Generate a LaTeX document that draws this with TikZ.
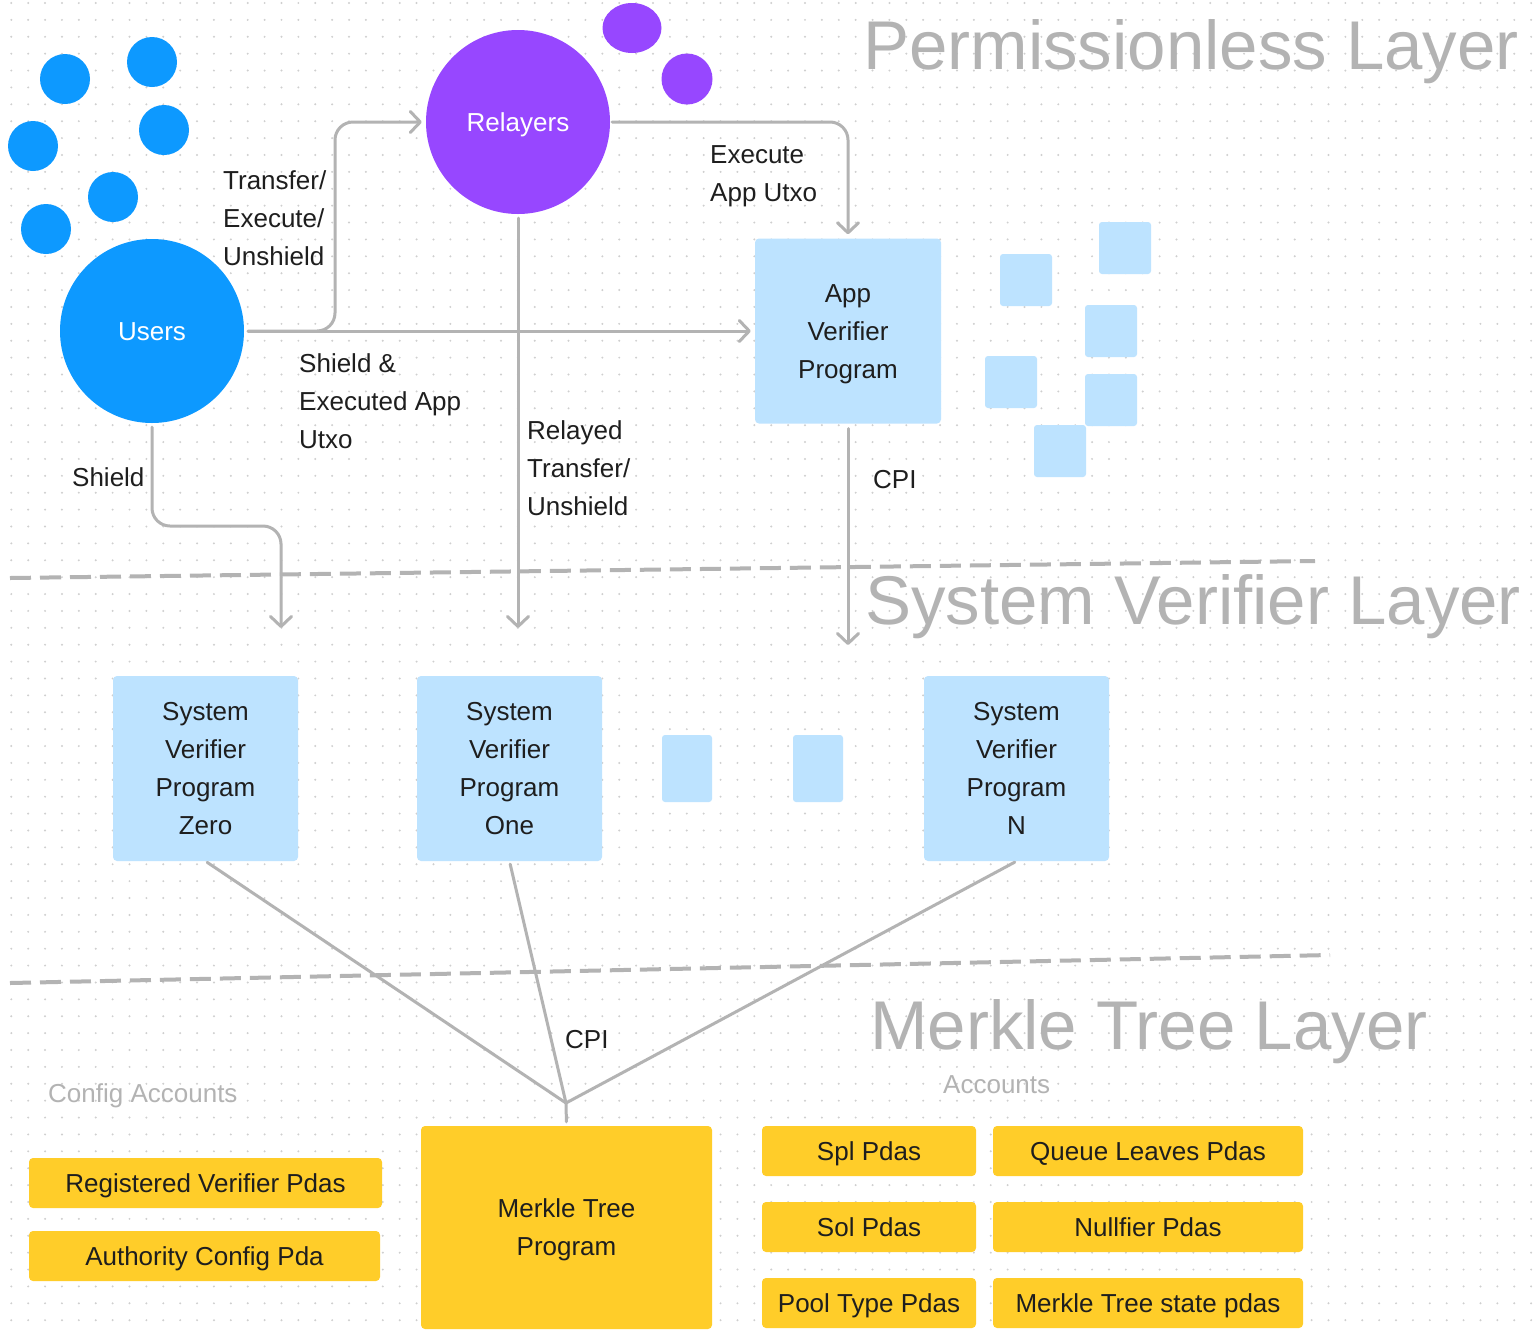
\documentclass[tikz,border=0pt]{standalone}
\usepackage{fontspec}
\setmainfont{Liberation Sans}
\usetikzlibrary{arrows.meta}
\definecolor{ublue}{HTML}{0D99FF}
\definecolor{rpurple}{HTML}{9747FF}
\definecolor{lblue}{HTML}{BDE3FF}
\definecolor{myellow}{HTML}{FFCD29}
\definecolor{linegray}{HTML}{B3B3B3}
\definecolor{dotgray}{HTML}{CFCFCF}
\definecolor{ink}{HTML}{1E1E1E}
% balances a descender on the last line of a centred block
\newcommand{\balancedesc}{\rule{0pt}{24.1pt}}

\begin{document}
\begin{tikzpicture}[x=1pt,y=-1pt,
  txt/.style={font=\fontsize{26pt}{38pt}\selectfont, text=ink, inner sep=0pt},
  lbl/.style={txt, anchor=base west, align=left},
  layertitle/.style={font=\fontsize{69pt}{80pt}\selectfont, text=linegray, inner sep=0pt, anchor=base west},
  grouptitle/.style={txt, text=linegray, anchor=base west},
  circ/.style={circle, inner sep=0pt, minimum size=184pt, text=white, font=\fontsize{26pt}{38pt}\selectfont, text height=18.6pt, text depth=0pt},
  vbox/.style={rectangle, rounded corners=4pt, fill=lblue, txt, align=center, minimum width=186pt, minimum height=185pt},
  ybox/.style={rectangle, rounded corners=4pt, fill=myellow, txt, align=center, minimum height=50pt},
  yrow/.style={ybox, text height=18.6pt, text depth=0pt},
  conn/.style={draw=linegray, line width=3pt, line cap=round, line join=round},
  arr/.style={conn, -{Straight Barb[length=10pt,width=21pt,round]}},
  layersep/.style={draw=linegray, line width=4pt, dash pattern=on 21pt off 9pt},
  grid dots/.style={draw=dotgray, line width=2.2pt, line cap=round, dash pattern=on 0pt off 16.887pt},
]
% canvas and dotted grid
\fill[white] (0,0) rectangle (1534,1334);
\useasboundingbox (0,0) rectangle (1534,1334);
\foreach \j in {0,...,78}
  \draw[grid dots] (11.3,3+\j*16.887) -- (1534,3+\j*16.887);

% layer separators
\draw[layersep] (10,578) -- (1315,561);
\draw[layersep] (10,983) -- (1330,955);

% layer titles
\node[layertitle] (permLayer) at (863,69) {Permissionless Layer};
\node[layertitle] (sysLayer) at (865,624) {System Verifier Layer};
\node[layertitle] (mtLayer) at (870,1049) {Merkle Tree Layer};

% user crowd
\fill[ublue] (65,79) circle[radius=25pt];
\fill[ublue] (152,62) circle[radius=25pt];
\fill[ublue] (33,146) circle[radius=25pt];
\fill[ublue] (164,130) circle[radius=25pt];
\fill[ublue] (113,197) circle[radius=25pt];
\fill[ublue] (46,229) circle[radius=25pt];
\node[circ, fill=ublue] (users) at (152,331) {Users};

% relayer crowd
\fill[rpurple] (632,28) ellipse[x radius=29.5pt, y radius=25pt];
\fill[rpurple] (687,79) circle[radius=25.5pt];
\node[circ, fill=rpurple] (relayers) at (518,122) {Relayers};

% app verifiers
\node[vbox] (app) at (848,331) {\balancedesc App\\Verifier\\Program};
\foreach \x/\y in {1000/254, 1099/222, 1085/305, 985/356, 1085/374, 1034/425}
  \fill[lblue, rounded corners=3pt] (\x,\y) rectangle ++(52,52);

% system verifiers
\node[vbox, minimum width=185pt] (svZero) at (205.5,768.5) {System\\Verifier\\Program\\Zero};
\node[vbox, minimum width=185pt] (svOne) at (509.5,768.5) {System\\Verifier\\Program\\One};
\node[vbox, minimum width=185pt] (svN) at (1016.5,768.5) {System\\Verifier\\Program\\N};
\fill[lblue, rounded corners=3pt] (662,735) rectangle (712,802);
\fill[lblue, rounded corners=3pt] (793,735) rectangle (843,802);

% merkle tree program and accounts
\node[ybox, minimum width=291pt, minimum height=203pt] (merkle) at (566.5,1227.5) {\balancedesc Merkle Tree\\Program};
\node[grouptitle] (cfgAcc) at (48,1102) {Config Accounts};
\node[yrow, minimum width=353pt] (regVer) at (205.5,1183) {Registered Verifier Pdas};
\node[yrow, minimum width=351pt] (authCfg) at (204.5,1256) {Authority Config Pda};
\node[grouptitle] (acc) at (943,1093) {Accounts};
\node[yrow, minimum width=214pt] (splPdas) at (869,1151) {Spl Pdas};
\node[yrow, minimum width=310pt] (queuePdas) at (1148,1151) {Queue Leaves Pdas};
\node[yrow, minimum width=214pt] (solPdas) at (869,1227) {Sol Pdas};
\node[yrow, minimum width=310pt] (nullPdas) at (1148,1227) {Nullfier Pdas};
\node[yrow, minimum width=214pt] (poolPdas) at (869,1303) {Pool Type Pdas};
\node[yrow, minimum width=310pt] (mtPdas) at (1148,1303) {Merkle Tree state pdas};

% connector labels (anchored at the baseline of their last line)
\node[lbl] (lblTEU) at (223,265) {Transfer/\\Execute/\\Unshield};
\node[lbl] (lblExec) at (710,201) {Execute\\App Utxo};
\node[lbl] (lblShieldExec) at (299,448) {Shield \&\\Executed App\\Utxo};
\node[lbl] (lblRelayed) at (527,515) {Relayed\\Transfer/\\Unshield};
\node[lbl] (lblShield) at (72,486) {Shield};
\node[lbl] (lblCpiA) at (873,488) {CPI};
\node[lbl] (lblCpiB) at (565,1048) {CPI};

% connectors
\coordinate (teuBend) at (335,122);
\coordinate (relayEnd) at (518,628);
\coordinate (shieldTurn) at (281,526);
\coordinate (shieldEnd) at (281,628);
\coordinate (cpiEnd) at (848,645);
\coordinate (hub) at (566,1103);

\draw[arr, rounded corners=18pt, shorten <=4pt, shorten >=4pt] (users.east) -| (teuBend) -- (relayers.west);
\draw[arr, shorten <=4pt, shorten >=4pt] (users.east) -- (app.west);
\draw[arr, rounded corners=18pt, shorten <=2pt, shorten >=4pt] (relayers.east) -| (app.north);
\draw[arr, shorten <=4pt] (relayers.south) -- (relayEnd);
\draw[arr, rounded corners=18pt, shorten <=4pt] (users.south) |- (shieldTurn) -- (shieldEnd);
\draw[arr, shorten <=5pt] (app.south) -- (cpiEnd);

\draw[conn, shorten <=2pt] (svZero.south) -- (hub);
\draw[conn, shorten <=3pt] (svOne.south) -- (hub);
\draw[conn, shorten <=2pt] (svN.south) -- (hub);
\draw[conn, shorten >=4pt] (hub) -- (merkle.north);
\end{tikzpicture}
\end{document}
